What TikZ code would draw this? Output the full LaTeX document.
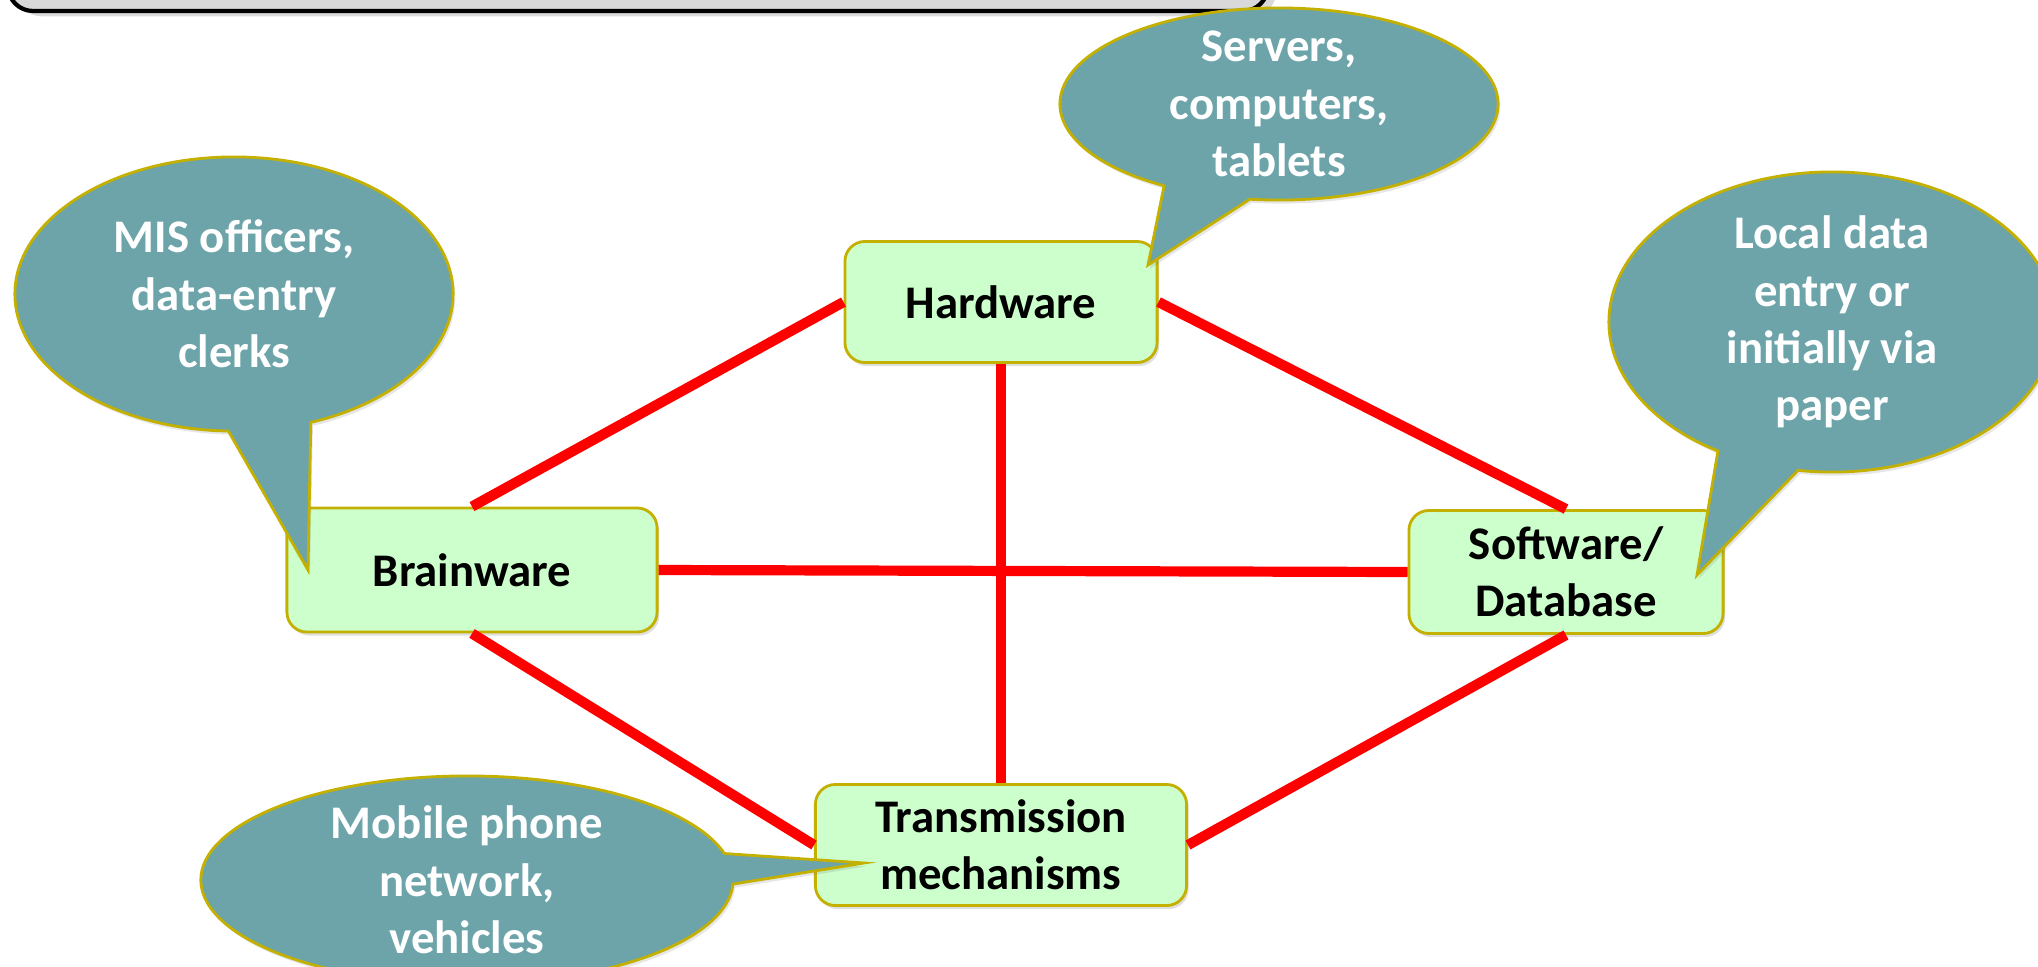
\documentclass[tikz,border=0pt]{standalone}
\usepackage{fontspec}
\setmainfont{Carlito}
\usetikzlibrary{shapes.callouts,shadows}

\definecolor{boxgreen}{RGB}{204,255,204}
\definecolor{rimgold}{RGB}{196,176,0}
\definecolor{bubbleteal}{RGB}{108,164,170}
\definecolor{bannergrey}{RGB}{217,217,217}

\begin{document}
\begin{tikzpicture}[x=0.01cm, y=-0.01cm,
  part/.style={draw=rimgold, fill=boxgreen, line width=0.8pt, rounded corners=0.2cm,
    align=center, font=\fontsize{13.3}{16.3}\selectfont\bfseries,
    drop shadow={opacity=0.25, shadow xshift=0.6pt, shadow yshift=-1pt}},
  link/.style={red, line width=2.9pt},
  bubble/.style={ellipse callout, draw=rimgold, fill=bubbleteal, line width=0.8pt,
    text=white, inner xsep=0pt, inner ysep=-0.8cm, align=center,
    font=\fontsize{13.3}{16.3}\selectfont\bfseries,
    drop shadow={opacity=0.2, shadow xshift=0.6pt, shadow yshift=-1pt}}]

  \useasboundingbox (0,0) rectangle (2038,966);
  \clip (0,0) rectangle (2038,966);

  % banner at the top
  \draw[fill=bannergrey, line width=1.2pt, rounded corners=0.25cm,
    drop shadow={opacity=0.3, shadow yshift=-1.5pt}] (8,-50) rectangle (1268,11);

  % components
  \node[part, minimum width=3.12cm, minimum height=1.21cm] (hw) at (1001,302) {Hardware};
  \node[part, minimum width=3.70cm, minimum height=1.24cm] (bw) at (472,570) {Brainware};
  \node[part, minimum width=3.14cm, minimum height=1.23cm] (sw) at (1566,572) {Software/\\Database};
  \node[part, minimum width=3.71cm, minimum height=1.21cm] (tm) at (1001,845) {Transmission\\mechanisms};

  % links
  \draw[link] (hw.west) -- (bw.north);
  \draw[link] (hw.east) -- (sw.north);
  \draw[link] (hw.south) -- (tm.north);
  \draw[link] (bw.east) -- (sw.west);
  \draw[link] (bw.south) -- (tm.west);
  \draw[link] (sw.south) -- (tm.east);

  % callouts
  \node[bubble, minimum width=4.38cm, minimum height=1.92cm,
    callout absolute pointer={(1148,265)}, callout pointer arc=24] (servers) at (1279,104)
    {Servers,\\computers,\\tablets};
  \node[bubble, minimum width=4.38cm, minimum height=2.74cm,
    callout absolute pointer={(308,570)}, callout pointer arc=22] (staff) at (234,294)
    {MIS officers,\\data-entry\\clerks};
  \node[bubble, minimum width=4.46cm, minimum height=3.00cm,
    callout absolute pointer={(1697,575)}, callout pointer arc=22] (entry) at (1832,322)
    {Local data\\entry or\\initially via\\paper};
  \node[bubble, minimum width=5.32cm, minimum height=2.08cm,
    callout absolute pointer={(864,863)}, callout pointer arc=17] (network) at (467,880)
    {Mobile phone\\network,\\vehicles};
\end{tikzpicture}
\end{document}
